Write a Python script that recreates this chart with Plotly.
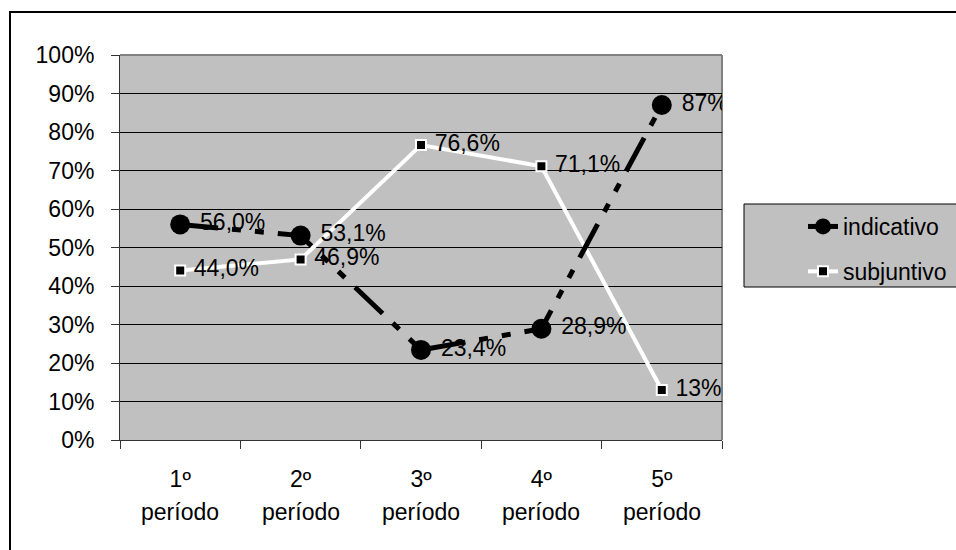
import plotly.graph_objects as go

# Data
periodos = ["1º", "2º", "3º", "4º", "5º"]
linha2 = "período"
indicativo = [0.560, 0.531, 0.234, 0.289, 0.87]
subjuntivo = [0.440, 0.469, 0.766, 0.711, 0.13]
rotulos_ind = ["56,0%", "53,1%", "23,4%", "28,9%", "87%"]
rotulos_sub = ["44,0%", "46,9%", "76,6%", "71,1%", "13%"]
y_ticks = [i / 10 for i in range(11)]
y_ticktext = [f"{i * 10}%" for i in range(11)]

FONT = "Liberation Sans, Arial, sans-serif"
FS = 23
GRAY = "#c0c0c0"

# Plot-area geometry (pixels)
W, H = 956, 550
L, R, T, B = 120, 234, 55, 110
pw, ph = W - L - R, H - T - B


def px_x(x):
    return (x - L) / pw


def px_y(y):
    return (H - B - y) / ph


fig = go.Figure()

fig.add_trace(go.Scatter(
    x=periodos, y=subjuntivo, name="subjuntivo",
    mode="lines+markers+text",
    line=dict(color="white", width=4),
    marker=dict(symbol="square", size=10, color="black",
                line=dict(color="white", width=2)),
    text=[" " + t for t in rotulos_sub], textposition="middle right",
    textfont=dict(family=FONT, size=FS, color="black"),
    legendgroup="b", legendrank=2,
))

fig.add_trace(go.Scatter(
    x=periodos, y=indicativo, name="indicativo",
    mode="lines+markers+text",
    line=dict(color="black", width=5, dash="38px,14px,9px,14px,9px,14px"),
    marker=dict(symbol="circle", size=20, color="black"),
    text=[" " + t for t in rotulos_ind], textposition="middle right",
    textfont=dict(family=FONT, size=FS, color="black"),
    legendgroup="a", legendrank=1,
))

# second line of each category label
annotations = [
    dict(x=p, y=px_y(512), xref="x", yref="paper", text=linha2,
         showarrow=False, yanchor="middle",
         font=dict(family=FONT, size=FS, color="black"))
    for p in periodos
]

shapes = [
    # outer chart frame
    dict(type="rect", xref="paper", yref="paper",
         x0=px_x(10), x1=px_x(1000), y0=px_y(600), y1=px_y(12),
         line=dict(color="black", width=2), fillcolor="rgba(0,0,0,0)",
         layer="below"),
    # legend box
    dict(type="rect", xref="paper", yref="paper",
         x0=px_x(744), x1=px_x(1000), y0=px_y(287), y1=px_y(204),
         line=dict(color="black", width=1), fillcolor=GRAY, layer="below"),
    # plot-area top/right border
    dict(type="line", xref="paper", yref="paper", layer="below",
         x0=0, x1=1, y0=1, y1=1, line=dict(color="#808080", width=2)),
    dict(type="line", xref="paper", yref="paper", layer="below",
         x0=1, x1=1, y0=0, y1=1, line=dict(color="#808080", width=2)),
]

fig.update_layout(
    width=W, height=H,
    margin=dict(l=L, r=R, t=T, b=B, autoexpand=False),
    paper_bgcolor="white", plot_bgcolor=GRAY,
    font=dict(family=FONT, size=FS, color="black"),
    showlegend=True,
    legend=dict(x=px_x(803), y=px_y(205), xanchor="left", yanchor="top",
                bgcolor="rgba(0,0,0,0)", borderwidth=0,
                traceorder="grouped", tracegroupgap=12,
                font=dict(family=FONT, size=FS, color="black")),
    annotations=annotations,
    shapes=shapes,
    xaxis=dict(type="category", range=[-0.5, 4.5],
               tickmode="array", tickvals=periodos, ticktext=periodos,
               tickson="boundaries", ticks="outside", ticklen=8,
               tickcolor="#333", showline=True, linecolor="#333",
               linewidth=1, showgrid=False, ticklabelstandoff=18,
               automargin=False,
               tickfont=dict(family=FONT, size=FS, color="black")),
    yaxis=dict(range=[0, 1], tickmode="array", tickvals=y_ticks,
               ticktext=y_ticktext, ticks="outside", ticklen=8,
               tickcolor="#333", showline=True, linecolor="#333",
               linewidth=1, showgrid=True, gridcolor="black", gridwidth=1,
               zeroline=False, ticklabelstandoff=12, automargin=False,
               tickfont=dict(family=FONT, size=FS, color="black")),
)

fig.write_html("out.html")
